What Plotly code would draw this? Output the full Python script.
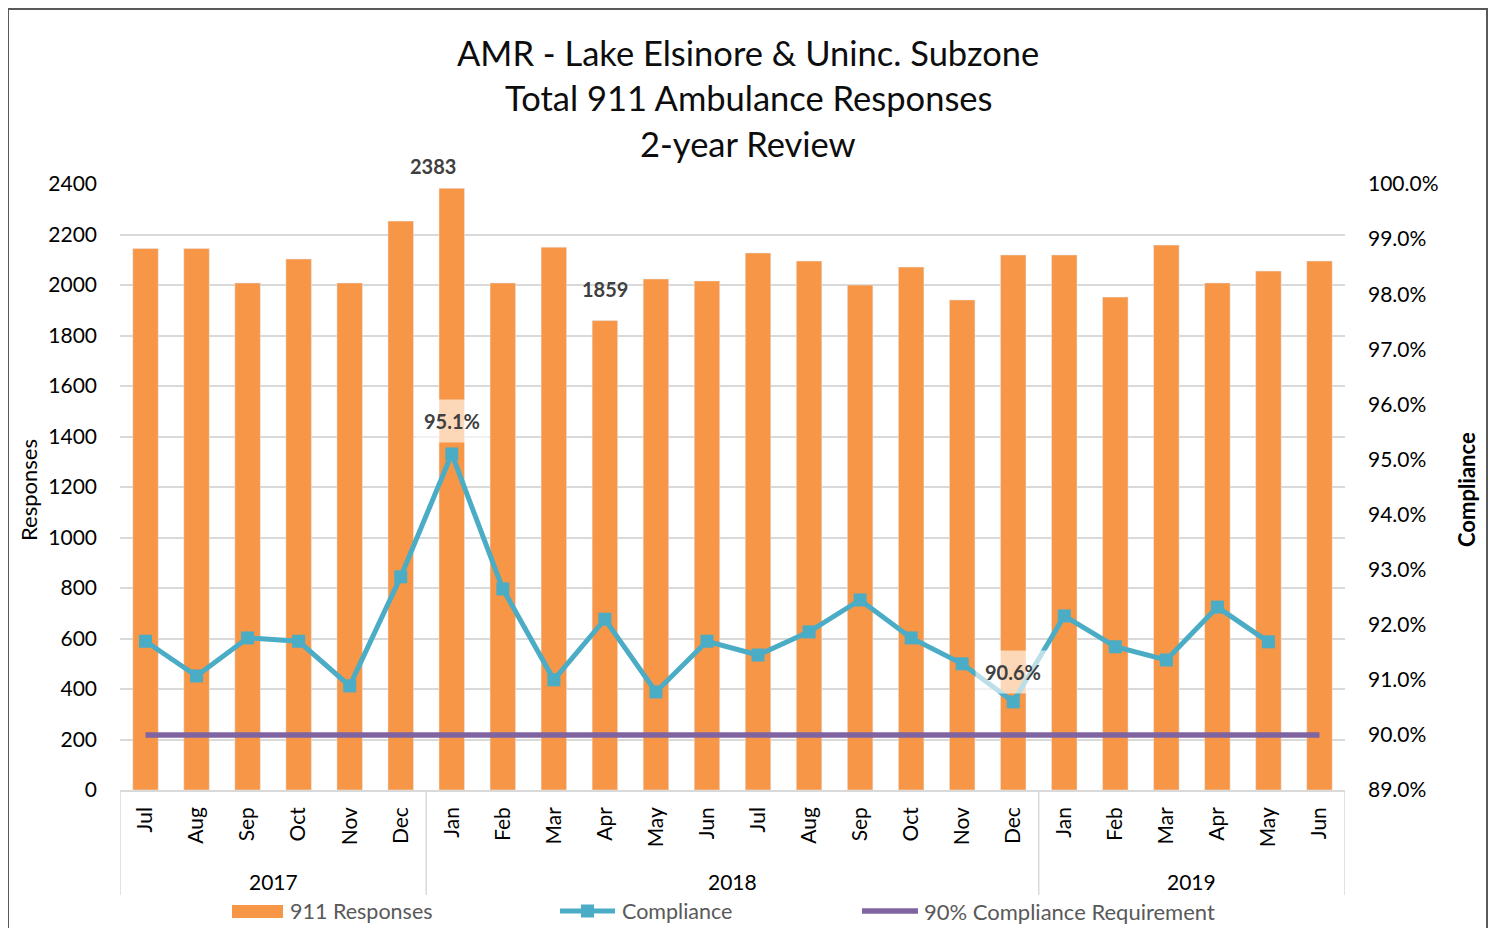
import plotly.graph_objects as go

years = ["2017"] * 6 + ["2018"] * 12 + ["2019"] * 6
months = ["Jul", "Aug", "Sep", "Oct", "Nov", "Dec",
          "Jan", "Feb", "Mar", "Apr", "May", "Jun", "Jul", "Aug", "Sep", "Oct", "Nov", "Dec",
          "Jan", "Feb", "Mar", "Apr", "May", "Jun"]
responses = [2145, 2145, 2008, 2103, 2008, 2253,
             2383, 2008, 2150, 1859, 2024, 2016, 2127, 2095, 2000, 2071, 1941, 2119,
             2119, 1952, 2158, 2008, 2055, 2095]
compliance = [91.70, 91.07, 91.76, 91.70, 90.89, 92.87,
              95.10, 92.65, 91.00, 92.10, 90.78, 91.70, 91.45, 91.87, 92.45, 91.76, 91.29, 90.60,
              92.16, 91.60, 91.36, 92.32, 91.69, None]
requirement = [90.0] * 24
bar_label_idx = [6, 9]
bar_label_shift = [(-19, 22), (0, 32)]
comp_label_idx = [6, 17]
comp_label_shift = [33, 30]

FONT = "Lato"
idx = list(range(len(months)))

# figure pixel geometry (page is offset by the 8px body margin)
W, H = 1480, 920
L, R, T, B = 112, 143, 176, 138
PW, PH = W - L - R, H - T - B


def px(fx):
    return (fx - L) / PW


def py(fy):
    return (H - B - fy) / PH


fig = go.Figure()
fig.add_trace(go.Bar(x=idx, y=responses, name="911 Responses", marker_color="#F79646",
                     width=0.5, yaxis="y", showlegend=False))
fig.add_trace(go.Scatter(x=idx, y=compliance, name="Compliance", yaxis="y2", mode="lines+markers",
                         line=dict(color="#4BACC6", width=5),
                         marker=dict(symbol="square", size=13, color="#4BACC6"), showlegend=False))
fig.add_trace(go.Scatter(x=idx, y=requirement, name="90% Compliance Requirement", yaxis="y2",
                         mode="lines", line=dict(color="#8064A2", width=5.5), showlegend=False))

ann = []
for i, (sx, sy) in zip(bar_label_idx, bar_label_shift):
    ann.append(dict(x=i, y=responses[i], xref="x", yref="y", text=f"<b>{responses[i]}</b>",
                    showarrow=False, xanchor="center", yanchor="middle", xshift=sx, yshift=sy,
                    font=dict(family=FONT, size=20, color="#404040")))
for i, s in zip(comp_label_idx, comp_label_shift):
    ann.append(dict(x=i, y=compliance[i], xref="x", yref="y2", text=f"<b>{compliance[i]:.1f}%</b>",
                    showarrow=False, xanchor="center", yanchor="middle", yshift=s,
                    bgcolor="rgba(255,255,255,0.62)", borderpad=9,
                    font=dict(family=FONT, size=20, color="#404040")))

# title lines
title_lines = ["AMR - Lake Elsinore & Uninc. Subzone", "Total 911 Ambulance Responses", "2-year Review"]
for t, fy in zip(title_lines, [44, 90, 135]):
    ann.append(dict(x=px(740), y=py(fy), xref="paper", yref="paper", text=t, showarrow=False,
                    xanchor="center", yanchor="middle",
                    font=dict(family=FONT, size=34.5, color="#0d0d0d")))

# axis titles
ann.append(dict(x=px(20), y=py(482), xref="paper", yref="paper", text="Responses", textangle=-90,
                showarrow=False, xanchor="center", yanchor="middle",
                font=dict(family=FONT, size=22, color="#000000")))
ann.append(dict(x=px(1458), y=py(482), xref="paper", yref="paper", text="<b>Compliance</b>",
                textangle=-90, showarrow=False, xanchor="center", yanchor="middle",
                font=dict(family=FONT, size=22, color="#000000")))

# year group labels and dividers
groups = []
for i, yv in enumerate(years):
    if not groups or groups[-1][0] != yv:
        groups.append([yv, i, i])
    else:
        groups[-1][2] = i
shapes = []
for yv, a, b in groups:
    ann.append(dict(x=(a + b) / 2, y=py(873), xref="x", yref="paper", text=yv, showarrow=False,
                    xanchor="center", yanchor="middle", font=dict(family=FONT, size=21, color="#000000")))
bounds = [groups[0][1] - 0.5] + [g[2] + 0.5 for g in groups]
for bx in bounds:
    shapes.append(dict(type="line", xref="x", yref="paper", x0=bx, x1=bx, y0=0, y1=py(887),
                       line=dict(color="#d9d9d9", width=1.5)))

# manual legend
ly = py(903)
shapes.append(dict(type="rect", xref="paper", yref="paper", x0=px(224), x1=px(275),
                   y0=py(897), y1=py(910), fillcolor="#F79646", line=dict(width=0)))
ann.append(dict(x=px(280), y=ly, xref="paper", yref="paper", text="911 Responses", showarrow=False,
                xanchor="left", yanchor="middle", font=dict(family=FONT, size=21.5, color="#595959")))
shapes.append(dict(type="line", xref="paper", yref="paper", x0=px(552), x1=px(607), y0=ly, y1=ly,
                   line=dict(color="#4BACC6", width=5)))
shapes.append(dict(type="rect", xref="paper", yref="paper", x0=px(573), x1=px(586),
                   y0=py(896.5), y1=py(909.5), fillcolor="#4BACC6", line=dict(width=0)))
ann.append(dict(x=px(612), y=ly, xref="paper", yref="paper", text="Compliance", showarrow=False,
                xanchor="left", yanchor="middle", font=dict(family=FONT, size=21.5, color="#595959")))
shapes.append(dict(type="line", xref="paper", yref="paper", x0=px(854), x1=px(910), y0=ly, y1=ly,
                   line=dict(color="#8064A2", width=5.5)))
ann.append(dict(x=px(914), y=ly, xref="paper", yref="paper", text="90% Compliance Requirement",
                showarrow=False, xanchor="left", yanchor="middle",
                font=dict(family=FONT, size=22, color="#595959")))

# outer border
shapes.append(dict(type="rect", xref="paper", yref="paper", x0=px(0), x1=px(W - 1),
                   y0=py(H + 20), y1=py(1), line=dict(color="#595959", width=2), layer="below"))

fig.update_layout(
    width=W, height=H,
    margin=dict(l=L, r=R, t=T, b=B, autoexpand=False),
    paper_bgcolor="white", plot_bgcolor="white",
    font=dict(family=FONT, color="#000000"),
    showlegend=False,
    xaxis=dict(range=[-0.5, len(months) - 0.5], tickvals=idx, ticktext=months, tickangle=-90,
               showline=True, linecolor="#d9d9d9", linewidth=1.5, ticks="", showgrid=False,
               zeroline=False, ticklabelstandoff=7,
               tickfont=dict(family=FONT, size=21, color="#000000")),
    yaxis=dict(range=[0, 2400], dtick=200, showgrid=True, gridcolor="#d9d9d9", gridwidth=1.5,
               zeroline=False, tickfont=dict(family=FONT, size=21, color="#000000"),
               ticklabelstandoff=22),
    yaxis2=dict(range=[89, 100], dtick=1, overlaying="y", side="right", showgrid=False,
                zeroline=False, ticksuffix="%", tickformat=".1f",
                tickfont=dict(family=FONT, size=21, color="#000000"), ticklabelstandoff=22),
    annotations=ann,
    shapes=shapes,
)

fig.write_html("out.html")
